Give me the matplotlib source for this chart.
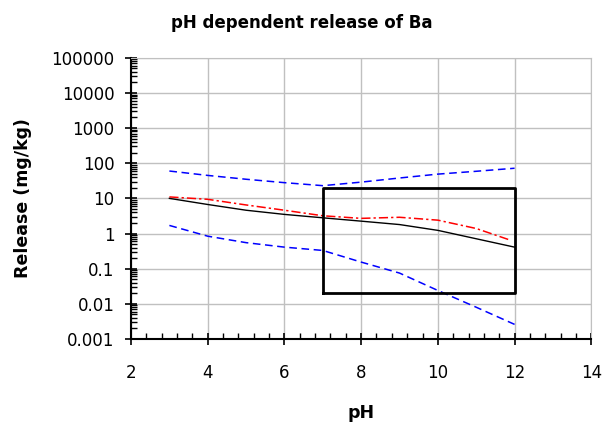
import matplotlib.pyplot as plt
import matplotlib.ticker as mticker
import numpy as np

# pH values and release data (mg/kg)
ph = [3, 4, 5, 6, 7, 8, 9, 10, 11, 12]
median = [10, 6.7, 4.6, 3.5, 2.8, 2.25, 1.8, 1.23, 0.71, 0.41]
upper = [60, 45, 35, 28, 23, 29, 38, 49, 59, 72]
lower = [1.7, 0.84, 0.55, 0.41, 0.33, 0.154, 0.075, 0.024, 0.008, 0.0026]
ph_red = [3, 4, 5, 6, 7, 8, 9, 10, 11, 11.85]
measured = [11, 9.4, 6.5, 4.6, 3.2, 2.7, 2.9, 2.4, 1.39, 0.67]

# box: pH range and release range
box_x = [7, 12]
box_y = [0.02, 20]

plt.rcParams['font.family'] = ['DejaVu Sans']

fig = plt.figure(figsize=(6.08, 4.28), dpi=100)
ax = fig.add_axes([0.2155, 0.208, 0.757, 0.657])

ax.plot(ph, upper, color='#0000ff', ls=(0, (5, 3)), lw=1.1)
ax.plot(ph, lower, color='#0000ff', ls=(0, (5, 3)), lw=1.1)
ax.plot(ph_red, measured, color='#ff0000', ls=(0, (6, 2, 1.5, 2)), lw=1.1)
ax.plot(ph, median, color='black', lw=1.0)

ax.plot([box_x[0], box_x[1], box_x[1], box_x[0], box_x[0]],
        [box_y[0], box_y[0], box_y[1], box_y[1], box_y[0]],
        color='black', lw=2)

ax.set_yscale('log')
ax.set_xlim(2, 14)
ax.set_ylim(0.001, 100000)
ax.set_xticks(np.arange(2, 15, 2))
ax.xaxis.set_minor_locator(mticker.MultipleLocator(0.4))
ax.yaxis.set_major_locator(mticker.LogLocator(base=10, numticks=20))
ax.yaxis.set_minor_locator(mticker.LogLocator(base=10, subs=np.arange(2, 10), numticks=20))
ax.yaxis.set_minor_formatter(mticker.NullFormatter())
ax.yaxis.set_major_formatter(mticker.FuncFormatter(lambda v, p: ('%g' % v) if v >= 1 else ('%.*f' % (int(round(-np.log10(v))), v))))

ax.grid(True, which='major', color='#c0c0c0', lw=1)
ax.set_axisbelow(True)
for s in ['top', 'right']:
    ax.spines[s].set_color('#c0c0c0')
for s in ['left', 'bottom']:
    ax.spines[s].set_linewidth(1.5)

ax.tick_params(which='major', direction='inout', length=8, width=1.2, labelsize=12)
ax.tick_params(axis='x', which='major', pad=14)
ax.tick_params(axis='y', which='major', pad=8)
ax.tick_params(which='minor', direction='in', length=4, width=1)

fig.suptitle('pH dependent release of Ba', x=0.497, y=0.967, fontsize=12, fontweight='bold')
ax.set_xlabel('pH', fontsize=12.5, fontweight='bold', labelpad=16)
ax.set_ylabel('Release (mg/kg)', fontsize=12.5, fontweight='bold', labelpad=14)

fig.savefig('out.png', dpi=100)
